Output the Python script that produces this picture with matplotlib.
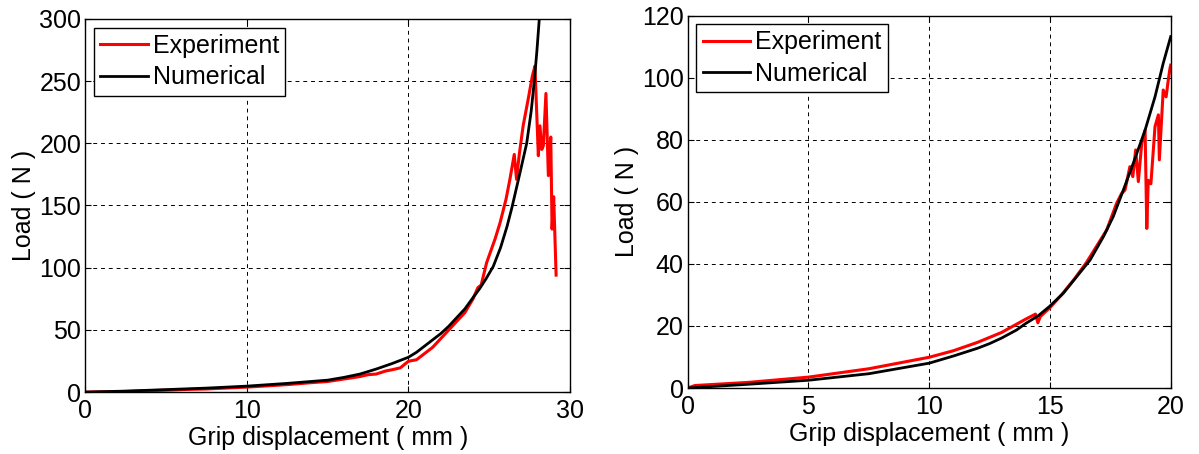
import matplotlib
matplotlib.use("Agg")
import matplotlib.pyplot as plt

plt.rcParams['font.family'] = ['Liberation Sans', 'DejaVu Sans']
plt.rcParams['font.size'] = 18

# left panel data
exp1_x = [0, 1, 2.5, 4, 5, 6.5, 7.5, 9, 10, 11, 12.5, 14, 15, 16, 17, 17.5, 18, 18.6, 19, 19.5,
          20, 20.5, 21, 21.5, 22, 22.5, 23, 23.5, 24, 24.3, 24.5, 24.84, 25.36, 25.67, 26.04,
          26.28, 26.55, 26.69, 26.86, 27.1, 27.42, 27.67, 27.83, 28.04, 28.14, 28.25, 28.35,
          28.51, 28.66, 28.81, 28.89, 28.99, 29.14]
exp1_y = [0, 0.2, 0.5, 1.2, 1.5, 2.2, 2.5, 3.4, 4, 4.8, 6, 7.6, 8.5, 10.5, 12.5, 14, 14.5, 17, 18, 19.5,
          24.8, 26, 31, 36, 43, 50, 57, 64, 75, 84, 86, 104, 123, 136, 155,
          171, 191, 171, 191, 214, 236, 254, 262, 190, 214, 195, 198,
          240, 174, 205, 131, 157, 94]
num1_x = [0, 2.5, 5, 7.5, 10, 12.5, 15, 16, 17, 18, 19, 20, 20.5, 21, 21.5, 22, 22.5, 23, 23.5,
          24, 24.4, 24.8, 25.25, 25.7, 26.1, 26.4, 26.9, 27.32, 27.6, 27.79, 27.95, 28.1, 28.2]
num1_y = [0, 0.8, 2, 3.2, 4.8, 7, 9.6, 11.8, 14.5, 18.5, 23, 28, 32, 37, 42, 47, 53, 60, 67,
          76, 83, 91, 101, 116, 133, 148, 176, 200, 226, 250, 274, 300, 318]

# right panel data
exp2_x = [0, 0.3, 2.5, 5, 7.5, 10, 11, 12, 13, 14, 14.4, 14.5, 14.6, 15, 15.5, 16, 16.5, 17.35,
          17.76, 17.97, 18.11, 18.31, 18.43, 18.55, 18.66, 18.8, 18.94, 19.01, 19.07, 19.18,
          19.35, 19.49, 19.53, 19.69, 19.81, 19.9, 19.97, 20]
exp2_y = [0, 0.8, 1.8, 3.5, 6.2, 9.9, 12, 14.7, 17.9, 22.2, 23.8, 21, 23, 25.9, 30.2, 35, 40.3, 50.9,
          59.5, 62.7, 63.8, 71.3, 68.1, 76.7, 66.5, 78.8, 83.1, 51.4, 66.9, 65.8,
          84.2, 88, 73.5, 96, 93.8, 99.2, 103, 104]
num2_x = [0, 2.5, 5, 7.5, 10, 11, 12, 12.5, 13, 13.62, 14, 14.52, 14.97, 15.55, 16.11, 16.66,
          17.21, 17.62, 18.04, 18.45, 18.94, 19.35, 19.69, 20]
num2_y = [0, 1.2, 2.5, 4.6, 8, 10.3, 12.8, 14.3, 16.1, 18.7, 20.8, 23.3, 26.2, 30.5, 35.9, 41.2,
          48.7, 55.2, 63.8, 72.4, 83.1, 93.8, 104.6, 113.2]

panels = [
    dict(ex=exp1_x, ey=exp1_y, nx=num1_x, ny=num1_y, xlim=(0, 30), ylim=(0, 300),
         xt=[0, 10, 20, 30], yt=[0, 50, 100, 150, 200, 250, 300],
         rect=[85.3 / 1199, 1 - 392.1 / 454, 484.7 / 1199, 373.3 / 454]),
    dict(ex=exp2_x, ey=exp2_y, nx=num2_x, ny=num2_y, xlim=(0, 20), ylim=(0, 120),
         xt=[0, 5, 10, 15, 20], yt=[0, 20, 40, 60, 80, 100, 120],
         rect=[687.7 / 1199, 1 - 388 / 454, 483 / 1199, 372.5 / 454]),
]

fig = plt.figure(figsize=(11.99, 4.54), dpi=100)

for p in panels:
    ax = fig.add_axes(p['rect'])
    ax.plot(p['ex'], p['ey'], color='red', lw=2.2, label='Experiment')
    ax.plot(p['nx'], p['ny'], color='black', lw=2.0, label='Numerical')
    ax.set_xlim(*p['xlim'])
    ax.set_ylim(*p['ylim'])
    ax.set_xticks(p['xt'])
    ax.set_yticks(p['yt'])
    ax.grid(True, color='black', linestyle=(0, (4, 4)), linewidth=0.7)
    ax.tick_params(direction='in', top=True, right=True, length=4, labelsize=18)
    ax.tick_params(axis='x', pad=5)
    ax.tick_params(axis='y', pad=3)
    for s in ax.spines.values():
        s.set_linewidth(1.0)
    ax.set_xlabel('Grip displacement ( mm )', fontsize=18, labelpad=2)
    ax.set_ylabel('Load ( N )', fontsize=18, labelpad=2)
    leg = ax.legend(loc='upper left', fontsize=18, frameon=True, fancybox=False,
                    framealpha=1, edgecolor='black', handlelength=1.9, handletextpad=0.2,
                    borderpad=0.25, labelspacing=0.3, borderaxespad=0.35)
    leg.get_frame().set_linewidth(1.0)

fig.savefig('out.png', dpi=100)
